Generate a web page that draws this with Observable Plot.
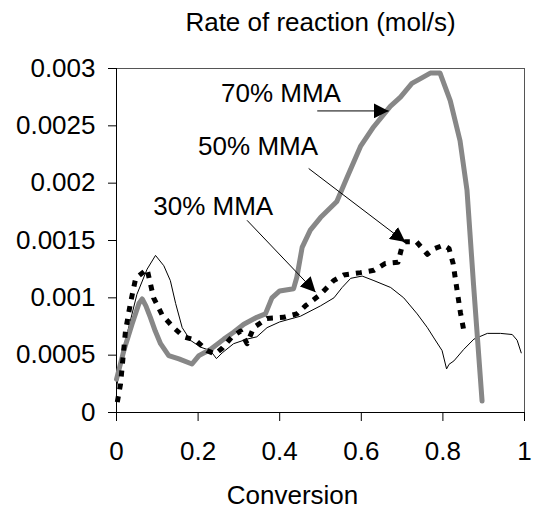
<!DOCTYPE html>
<html><head><meta charset="utf-8">
<script src="https://cdn.jsdelivr.net/npm/d3@7"></script>
<script src="https://cdn.jsdelivr.net/npm/@observablehq/plot@0.6"></script>
<style>body{margin:0;background:#fff}</style>
</head><body><div id="chart"></div>
<script>
// 30% MMA (thin black line)
const conv30 = [0, 0.02, 0.05, 0.075, 0.0956, 0.116, 0.132, 0.145, 0.161, 0.181, 0.206, 0.23, 0.245, 0.259, 0.287, 0.32, 0.344, 0.369, 0.40, 0.451, 0.5, 0.533, 0.553, 0.574, 0.602, 0.631, 0.672, 0.704, 0.737, 0.762, 0.778, 0.798, 0.809, 0.815, 0.827, 0.851, 0.876, 0.909, 0.941, 0.97, 0.982, 0.992];
const rate30 = [0.00022, 0.0006, 0.00103, 0.00125, 0.00137, 0.00128, 0.00115, 0.00095, 0.00074, 0.00063, 0.00057, 0.00054, 0.00047, 0.00052, 0.0006, 0.00064, 0.00066, 0.00074, 0.00079, 0.00084, 0.00093, 0.001, 0.00109, 0.00117, 0.00119, 0.00115, 0.00109, 0.001, 0.00086, 0.00074, 0.00065, 0.00054, 0.00038, 0.00042, 0.00045, 0.00055, 0.00064, 0.00069, 0.00069, 0.00068, 0.00063, 0.00052];
// 50% MMA (thick dashed black)
const conv50 = [0.002, 0.01, 0.022, 0.034, 0.047, 0.075, 0.091, 0.112, 0.14, 0.165, 0.194, 0.222, 0.242, 0.259, 0.283, 0.304, 0.32, 0.336, 0.369, 0.41, 0.442, 0.463, 0.50, 0.532, 0.557, 0.598, 0.631, 0.659, 0.69, 0.70, 0.708, 0.735, 0.762, 0.78, 0.802, 0.815, 0.825, 0.835, 0.843, 0.851];
const rate50 = [0.00009, 0.00025, 0.00071, 0.00095, 0.00117, 0.00125, 0.001, 0.00085, 0.00074, 0.00066, 0.00063, 0.00054, 0.00051, 0.00056, 0.00066, 0.00071, 0.0006, 0.00074, 0.00082, 0.00083, 0.00086, 0.00093, 0.00103, 0.00115, 0.0012, 0.00122, 0.00124, 0.0013, 0.00131, 0.00145, 0.00149, 0.00149, 0.00138, 0.00143, 0.00146, 0.00143, 0.0013, 0.00106, 0.00087, 0.00072];
// 70% MMA (thick grey line)
const conv70 = [0, 0.018, 0.038, 0.055, 0.063, 0.072, 0.083, 0.095, 0.108, 0.128, 0.153, 0.185, 0.202, 0.23, 0.263, 0.287, 0.312, 0.344, 0.365, 0.381, 0.40, 0.434, 0.442, 0.455, 0.475, 0.50, 0.54, 0.565, 0.598, 0.63, 0.671, 0.696, 0.724, 0.744, 0.769, 0.793, 0.818, 0.842, 0.859, 0.875, 0.896];
const rate70 = [0.00029, 0.00054, 0.00077, 0.00095, 0.00099, 0.00093, 0.00083, 0.00071, 0.0006, 0.000496, 0.000467, 0.000423, 0.000496, 0.00055, 0.00064, 0.0007, 0.00077, 0.00083, 0.00086, 0.001, 0.00106, 0.00108, 0.00118, 0.00144, 0.00159, 0.0017, 0.00184, 0.00205, 0.00232, 0.00249, 0.00267, 0.00275, 0.00287, 0.00291, 0.00296, 0.00296, 0.00272, 0.00237, 0.00194, 0.00112, 0.0001];

// annotations
const annLabels = ["70% MMA", "50% MMA", "30% MMA"];
const annTextX = [0.403, 0.347, 0.237];
const annTextY = [0.002777, 0.002318, 0.001798];
const arrowX1 = [0.492, 0.471, 0.32];
const arrowY1 = [0.00263, 0.002128, 0.001676];
const arrowX2 = [0.667, 0.708, 0.488];
const arrowY2 = [0.00263, 0.001486, 0.001049];

// axes
const xTicks = [0, 0.2, 0.4, 0.6, 0.8, 1];
const xTickLabels = ["0", "0.2", "0.4", "0.6", "0.8", "1"];
const yTicks = [0, 0.0005, 0.001, 0.0015, 0.002, 0.0025, 0.003];
const yTickLabels = ["0", "0.0005", "0.001", "0.0015", "0.002", "0.0025", "0.003"];
const xDomain = [0, 1];
const yDomain = [0, 0.003];
const title = "Rate of reaction (mol/s)";
const xTitle = "Conversion";

const toRows = (xs, ys) => xs.map((x, i) => ({x, y: ys[i]}));
const d30 = toRows(conv30, rate30);
const d50 = toRows(conv50, rate50);
const d70 = toRows(conv70, rate70);
const ann = annLabels.map((label, i) => ({label, tx: annTextX[i], ty: annTextY[i], x1: arrowX1[i], y1: arrowY1[i], x2: arrowX2[i], y2: arrowY2[i]}));

const font = "'Liberation Sans', Arial, sans-serif";
const chart = Plot.plot({
  width: 533, height: 511,
  marginLeft: 116, marginRight: 9, marginTop: 68, marginBottom: 99,
  style: {fontFamily: font, fontSize: "26px", background: "white", color: "black"},
  x: {domain: xDomain, ticks: xTicks, tickFormat: d => xTickLabels[xTicks.indexOf(d)], tickSize: 9, tickPadding: 20, label: null},
  y: {domain: yDomain, ticks: yTicks, tickFormat: d => yTickLabels[yTicks.indexOf(d)], tickSize: 8, tickPadding: 13, label: null},
  marks: [
    Plot.ruleY([yDomain[1]], {stroke: "#555", strokeWidth: 1}),
    Plot.ruleX([xDomain[1]], {stroke: "#555", strokeWidth: 1}),
    Plot.ruleX([xDomain[0]], {stroke: "black", strokeWidth: 1}),
    Plot.ruleY([yDomain[0]], {stroke: "black", strokeWidth: 1}),
    Plot.line(d30, {x: "x", y: "y", stroke: "black", strokeWidth: 1}),
    Plot.line(d70, {x: "x", y: "y", stroke: "#878787", strokeWidth: 5, strokeLinejoin: "round"}),
    Plot.line(d50, {x: "x", y: "y", stroke: "black", strokeWidth: 5, strokeDasharray: "6,7", strokeLinecap: "butt"}),
    Plot.link(ann, {x1: "x1", y1: "y1", x2: "x2", y2: "y2", stroke: "black", strokeWidth: 1, markerEnd: "arrow"}),
    Plot.text(ann, {x: "tx", y: "ty", text: "label", fontSize: 26, fill: "black", textAnchor: "middle"}),
    Plot.text([title], {frameAnchor: "top", lineAnchor: "middle", dy: -46, fontSize: 26, fill: "black"}),
    Plot.text([xTitle], {frameAnchor: "bottom", lineAnchor: "middle", dx: -28, dy: 83, fontSize: 26, fill: "black"})
  ]
});
chart.querySelectorAll("marker").forEach(m => {
  m.setAttribute("viewBox", "-10 -5 10 10");
  m.setAttribute("markerWidth", 15);
  m.setAttribute("markerHeight", 15);
  m.setAttribute("fill", "black");
  m.setAttribute("stroke", "none");
  m.querySelectorAll("path").forEach(p => p.setAttribute("d", "M-10,-5L0,0L-10,5Z"));
});
document.getElementById("chart").appendChild(chart);
</script>
</body></html>
